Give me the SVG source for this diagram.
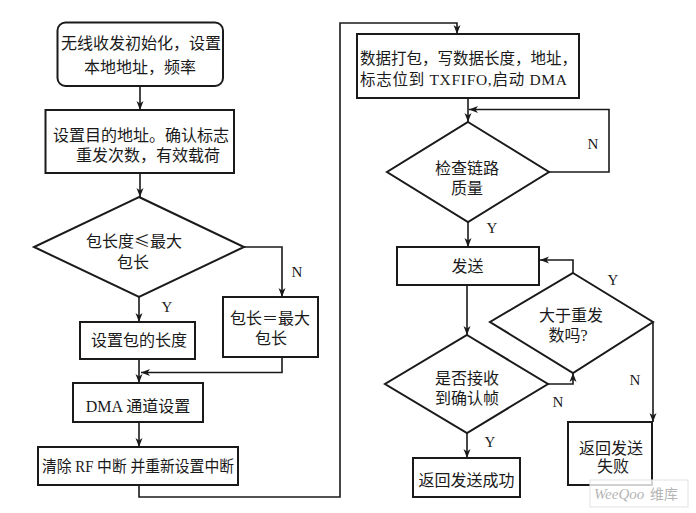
<svg xmlns="http://www.w3.org/2000/svg" width="696" height="513" viewBox="0 0 696 513">
<style>
.box{fill:#fff;stroke:#1a1a1a;stroke-width:2}
.ln{fill:none;stroke:#1a1a1a;stroke-width:1.6}
.t{font-family:"Liberation Serif","Noto Sans CJK SC",serif;font-size:16px;fill:#1a1a1a;text-anchor:middle}
.lb{font-family:"Liberation Serif",serif;font-size:15px;fill:#1a1a1a;text-anchor:middle}
</style>
<defs>
<marker id="ah" markerUnits="userSpaceOnUse" markerWidth="10" markerHeight="8" refX="9" refY="4" orient="auto">
<path d="M0,0.5 L9,4 L0,7.5 L2.5,4 z" fill="#1a1a1a"/>
</marker>
</defs>
<rect width="696" height="513" fill="#fff"/>
<g id="connectors">
<path class="ln" d="M140,86 V110" marker-end="url(#ah)"/>
<path class="ln" d="M140,173 V197" marker-end="url(#ah)"/>
<path class="ln" d="M139,297 V322" marker-end="url(#ah)"/>
<path class="ln" d="M244,247 H282 V297" marker-end="url(#ah)"/>
<path class="ln" d="M139,359 V383" marker-end="url(#ah)"/>
<path class="ln" d="M282,357 V372.5 H141" marker-end="url(#ah)"/>
<path class="ln" d="M139,422 V447" marker-end="url(#ah)"/>
<path class="ln" d="M139,485 V497 H340 V23 H457 V34" marker-end="url(#ah)"/>
<path class="ln" d="M468,98 V122" marker-end="url(#ah)"/>
<path class="ln" d="M549,172 H609 V109.5 H469" marker-end="url(#ah)"/>
<path class="ln" d="M468,222 V247" marker-end="url(#ah)"/>
<path class="ln" d="M467,285 V335" marker-end="url(#ah)"/>
<path class="ln" d="M548,384 H573 V373" marker-end="url(#ah)"/>
<path class="ln" d="M573,273 V260 H540" marker-end="url(#ah)"/>
<path class="ln" d="M653,322 V422" marker-end="url(#ah)"/>
<path class="ln" d="M467,433 V458" marker-end="url(#ah)"/>
</g>
<g id="labels">
<text class="lb" x="297" y="277">N</text>
<text class="lb" x="167" y="312">Y</text>
<text class="lb" x="593" y="149">N</text>
<text class="lb" x="492" y="233">Y</text>
<text class="lb" x="613" y="285">Y</text>
<text class="lb" x="558" y="407">N</text>
<text class="lb" x="635" y="385">N</text>
<text class="lb" x="490" y="447">Y</text>
</g>
<g id="init">
<rect class="box" x="57.5" y="22.5" width="165.5" height="63.5" rx="8"/>
<text class="t" x="141" y="49">无线收发初始化，设置</text>
<text class="t" x="140" y="73">本地地址，频率</text>
</g>
<g id="setaddr">
<rect class="box" x="45.5" y="110" width="188.5" height="63"/>
<text class="t" x="141" y="141">设置目的地址。确认标志</text>
<text class="t" x="148" y="161">重发次数，有效载荷</text>
</g>
<g id="lencheck">
<polygon class="box" points="139,197 244,247 139,297 34,247"/>
<text class="t" x="134" y="247" style="font-family:'Noto Sans CJK SC',sans-serif">包长度≤最大</text>
<text class="t" x="133" y="268">包长</text>
</g>
<g id="setlen">
<rect class="box" x="80" y="322" width="115" height="37"/>
<text class="t" x="139" y="346">设置包的长度</text>
</g>
<g id="maxlen">
<rect class="box" x="223" y="297" width="95" height="60"/>
<text class="t" x="270" y="324">包长＝最大</text>
<text class="t" x="271" y="344">包长</text>
</g>
<g id="dma">
<rect class="box" x="73" y="383" width="130" height="39"/>
<text class="t" x="138" y="412">DMA 通道设置</text>
</g>
<g id="clearint">
<rect class="box" x="38" y="447" width="200" height="38"/>
<text class="t" x="42" y="472" style="text-anchor:start" textLength="192" lengthAdjust="spacingAndGlyphs">清除 RF 中断 并重新设置中断</text>
</g>
<g id="pack">
<rect class="box" x="357" y="34" width="222" height="64"/>
<text class="t" x="468.5" y="64" style="font-size:15.5px">数据打包，写数据长度，地址，</text>
<text class="t" x="360" y="85" style="font-size:15.5px;text-anchor:start" textLength="207" lengthAdjust="spacing">标志位到 TXFIFO,启动 DMA</text>
</g>
<g id="linkcheck">
<polygon class="box" points="468,122 549,172 468,222 387,172"/>
<text class="t" x="467" y="174">检查链路</text>
<text class="t" x="467" y="194">质量</text>
</g>
<g id="send">
<rect class="box" x="397" y="247" width="142" height="38"/>
<text class="t" x="467.5" y="272">发送</text>
</g>
<g id="ackcheck">
<polygon class="box" points="467,335 548,384 467,433 385,384"/>
<text class="t" x="467" y="384">是否接收</text>
<text class="t" x="467" y="404">到确认帧</text>
</g>
<g id="retrycheck">
<polygon class="box" points="573,273 653,322 573,373 490,322"/>
<text class="t" x="571" y="321">大于重发</text>
<text class="t" x="568" y="341">数吗?</text>
</g>
<g id="success">
<rect class="box" x="413" y="458" width="107" height="39"/>
<text class="t" x="466.5" y="486">返回发送成功</text>
</g>
<g id="fail">
<rect class="box" x="568" y="422" width="84" height="63"/>
<text class="t" x="611" y="454">返回发送</text>
<text class="t" x="613" y="472">失败</text>
</g>
<g id="watermark">
<rect x="590" y="480" width="98" height="27" fill="#fff" fill-opacity="0.8" stroke="#e2e2e2" stroke-width="1"/>
<text x="594" y="499" style="font-family:'Liberation Serif',serif;font-style:italic;font-size:15px;fill:#b5b5b5">WeeQoo</text>
<text x="650" y="499" style="font-family:'Noto Sans CJK SC',sans-serif;font-size:14px;fill:#b5b5b5">维库</text>
</g>
</svg>
